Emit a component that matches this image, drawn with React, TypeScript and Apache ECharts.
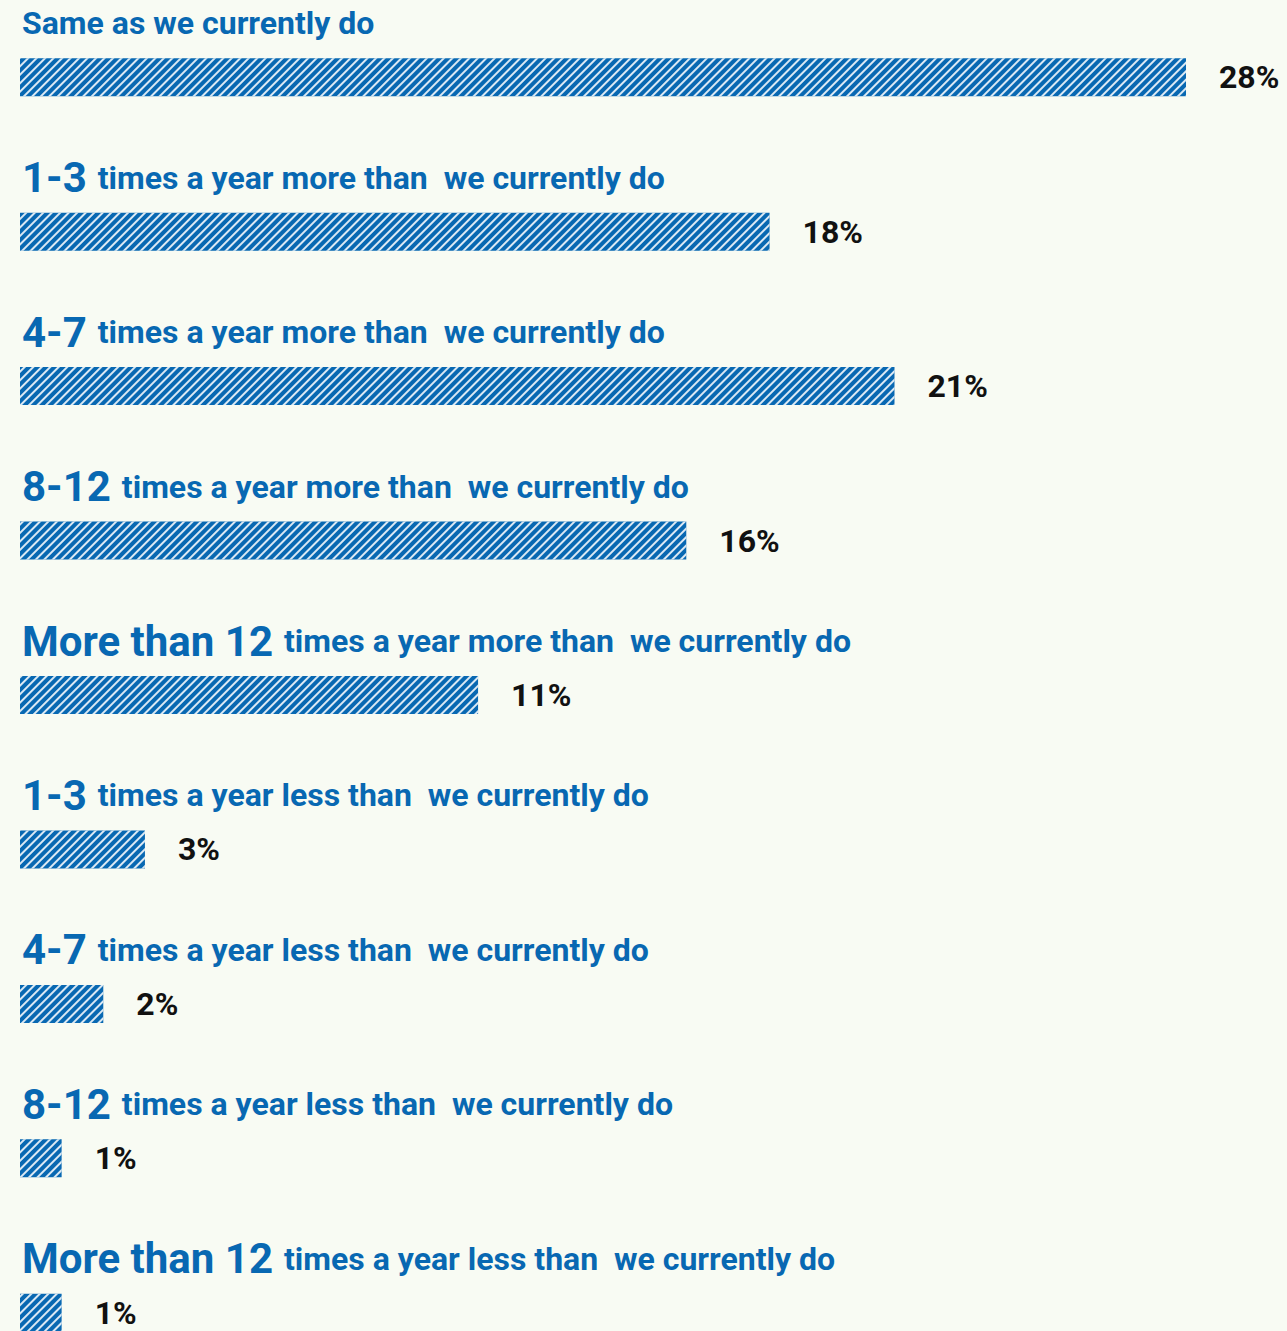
import React, { useEffect, useRef } from "react";
import * as echarts from "echarts";

const prefixes = ["", "1-3", "4-7", "8-12", "More than 12", "1-3", "4-7", "8-12", "More than 12"];
const suffixes = [
  "Same as we currently do",
  "times a year more than  we currently do",
  "times a year more than  we currently do",
  "times a year more than  we currently do",
  "times a year more than  we currently do",
  "times a year less than  we currently do",
  "times a year less than  we currently do",
  "times a year less than  we currently do",
  "times a year less than  we currently do",
];
const values = [28, 18, 21, 16, 11, 3, 2, 1, 1];
const categories = prefixes.map((p, i) => (p ? p + " " + suffixes[i] : suffixes[i]));

const BLUE = "#0868b2";
const FONT = "Roboto";

export default function App() {
  const ref = useRef<HTMLDivElement>(null);
  useEffect(() => {
    const chart = echarts.init(ref.current!, null, { renderer: "svg" });
    chart.setOption({
      animation: false,
      backgroundColor: "#f8fbf3",
      grid: { left: 20, right: 101, top: 0, bottom: 0, containLabel: false },
      xAxis: { type: "value", min: 0, max: 28, show: false },
      yAxis: {
        type: "category",
        data: categories,
        inverse: true,
        show: false,
      },
      series: [
        {
          type: "bar",
          data: values,
          barWidth: 38,
          itemStyle: {
            color: BLUE,
            decal: {
              symbol: "rect",
              symbolSize: 1,
              dashArrayX: [1, 0],
              dashArrayY: [2, 4],
              rotation: -Math.PI / 4,
              color: "rgba(255,255,255,0.85)",
            },
          },
          label: {
            show: true,
            position: "right",
            distance: 33,
            formatter: "{c}%",
            color: "#111",
            fontFamily: FONT,
            fontWeight: "bold",
            fontSize: 32,
          },
          silent: true,
        },
        {
          type: "bar",
          data: values,
          barWidth: 38,
          barGap: "-100%",
          itemStyle: { color: "rgba(0,0,0,0)" },
          silent: true,
          label: {
            show: true,
            position: [2, -12],
            align: "left",
            verticalAlign: "bottom",
            formatter: (p: any) => {
              const pre = prefixes[p.dataIndex];
              const suf = suffixes[p.dataIndex];
              return pre ? `{big|${pre}}{small|${suf}}` : `{small|${suf}}`;
            },
            rich: {
              big: {
                fontSize: 42,
                fontWeight: "bold",
                color: BLUE,
                fontFamily: FONT,
                lineHeight: 46,
                padding: [0, 11, 0, 0],
              },
              small: { fontSize: 32, fontWeight: "bold", color: BLUE, fontFamily: FONT, lineHeight: 46 },
            },
          },
        },
      ],
    });
    return () => chart.dispose();
  }, []);
  return (
    <div
      style={{ position: "absolute", left: 0, top: 0, width: 1287, height: 1331, overflow: "hidden", background: "#f8fbf3" }}
    >
      <div ref={ref} style={{ width: 1287, height: 1390 }} />
    </div>
  );
}
